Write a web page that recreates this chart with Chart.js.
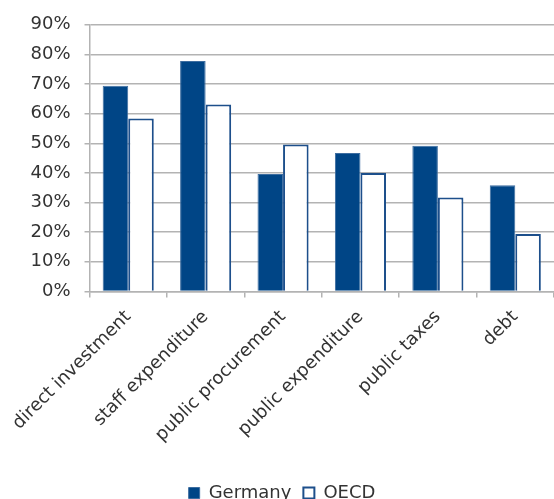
<!DOCTYPE html>
<html>
<head>
<meta charset="utf-8">
<script src="https://cdn.jsdelivr.net/npm/chart.js@4.4.1/dist/chart.umd.min.js"></script>
<style>
  html, body { margin: 0; padding: 0; background: #fff; }
  #wrap { width: 554px; height: 499px; position: relative; }
</style>
</head>
<body>
<div id="wrap"><canvas id="chart"></canvas></div>
<script>
// categories and shares (percent)
const categories = [
  'direct investment',
  'staff expenditure',
  'public procurement',
  'public expenditure',
  'public taxes',
  'debt'
];
const germany = [69.4, 77.8, 39.6, 46.7, 49.2, 35.8];
const oecd = [58.4, 63.1, 49.6, 40.0, 31.7, 19.4];
const yMin = 0;
const yMax = 90;
const yStep = 10;

const BLUE = '#004586';
const GRID = '#b3b3b3';
const TEXT = '#333333';
const FONT = "'DejaVu Sans', sans-serif";

Chart.defaults.font.family = FONT;
Chart.defaults.font.size = 18;
Chart.defaults.color = TEXT;

new Chart(document.getElementById('chart'), {
  type: 'bar',
  data: {
    labels: categories,
    datasets: [
      {
        label: 'Germany',
        data: germany,
        backgroundColor: BLUE,
        borderColor: '#3d6da0',
        borderWidth: 1,
        categoryPercentage: 0.66,
        barPercentage: 1
      },
      {
        label: 'OECD',
        data: oecd,
        backgroundColor: '#ffffff',
        borderColor: '#1d4f8b',
        borderWidth: 2,
        categoryPercentage: 0.66,
        barPercentage: 1
      }
    ]
  },
  options: {
    responsive: true,
    maintainAspectRatio: false,
    animation: false,
    layout: {
      padding: { top: 22, right: 0, left: 10, bottom: -13 }
    },
    plugins: {
      tooltip: { enabled: false },
      legend: {
        position: 'bottom',
        labels: {
          boxWidth: 11,
          boxHeight: 11,
          padding: 12,
          color: TEXT,
          font: { size: 18 }
        }
      }
    },
    scales: {
      x: {
        grid: {
          drawOnChartArea: false,
          drawTicks: true,
          tickLength: 6,
          color: GRID,
          lineWidth: 1.5,
          offset: true
        },
        border: { color: GRID, width: 1.5 },
        ticks: {
          color: TEXT,
          maxRotation: 45,
          minRotation: 45,
          padding: 9,
          font: { size: 18 }
        },
        // leave some room between the rotated labels and the legend
        afterFit: (scale) => { scale.height += 17; }
      },
      y: {
        min: yMin,
        max: yMax,
        grid: {
          color: GRID,
          lineWidth: 1.5,
          tickLength: 5
        },
        border: { color: GRID, width: 1.5 },
        ticks: {
          stepSize: yStep,
          padding: 14,
          color: TEXT,
          font: { size: 18 },
          callback: (v) => v + '%'
        }
      }
    }
  }
});
</script>
</body>
</html>
